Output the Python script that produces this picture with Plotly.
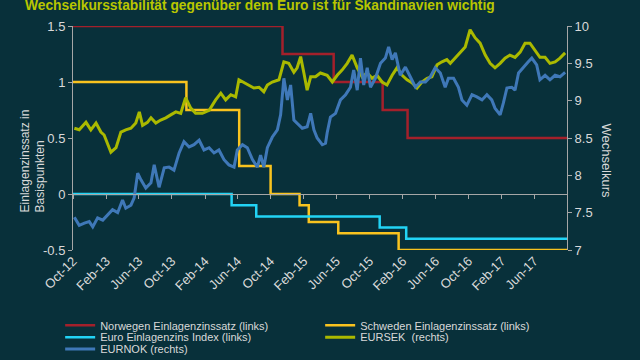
import plotly.graph_objects as go

# ---------------- data ----------------
title_text = "Wechselkursstabilität gegenüber dem Euro ist für Skandinavien wichtig"

nor_dates = ["2012-10-01", "2014-11-14", "2015-05-22", "2015-11-19", "2016-02-19", "2017-09-30"]
nor_rate = [1.5, 1.25, 1.0, 0.75, 0.5, 0.5]

swe_dates = ["2012-10-01", "2013-11-24", "2014-06-07", "2014-10-01", "2015-01-16",
             "2015-02-19", "2015-06-08", "2016-01-17", "2017-09-30"]
swe_rate = [1.0, 0.75, 0.25, 0.0, -0.1, -0.25, -0.35, -0.5, -0.5]

eur_dates = ["2012-10-01", "2014-05-10", "2014-08-09", "2015-11-08", "2016-02-14", "2017-09-30"]
eur_rate = [0.0, -0.1, -0.2, -0.3, -0.4, -0.4]

sek_dates = [
    "2012-10-06", "2012-10-24", "2012-11-18", "2012-12-06", "2012-12-25", "2013-01-12", "2013-01-24",
    "2013-02-06", "2013-02-18", "2013-03-09", "2013-03-27", "2013-04-14", "2013-05-03", "2013-05-21",
    "2013-06-03", "2013-06-15", "2013-07-03", "2013-07-16", "2013-08-03", "2013-08-21", "2013-09-09",
    "2013-09-27", "2013-10-16", "2013-11-03", "2013-11-21", "2013-12-10", "2013-12-28", "2014-01-16",
    "2014-01-22", "2014-02-16", "2014-03-12", "2014-03-31", "2014-04-18", "2014-05-07", "2014-05-25",
    "2014-06-06", "2014-06-25", "2014-07-13", "2014-07-31", "2014-08-19", "2014-09-06", "2014-09-19",
    "2014-10-07", "2014-11-01", "2014-11-19", "2014-12-07", "2014-12-26", "2015-01-07", "2015-01-20",
    "2015-02-01", "2015-02-13", "2015-02-26", "2015-03-16", "2015-04-03", "2015-04-22",
    "2015-04-28", "2015-05-17", "2015-06-04", "2015-06-22", "2015-07-11", "2015-07-29", "2015-08-17",
    "2015-09-04", "2015-09-23", "2015-10-11", "2015-10-29", "2015-11-17", "2015-12-05", "2015-12-24",
    "2016-01-11", "2016-01-30", "2016-02-17", "2016-03-06", "2016-03-25", "2016-04-12", "2016-05-01",
    "2016-05-19", "2016-06-07", "2016-06-25", "2016-07-13",
    "2016-07-26", "2016-08-13", "2016-09-01", "2016-09-19", "2016-10-07", "2016-10-26", "2016-11-13",
    "2016-12-02", "2016-12-20", "2017-01-07", "2017-01-26", "2017-02-13", "2017-03-03", "2017-03-22",
    "2017-04-10", "2017-04-28", "2017-05-16", "2017-06-04", "2017-06-22", "2017-07-11", "2017-07-29",
    "2017-08-17", "2017-09-04", "2017-09-23"]
sek_rate = [
    8.63, 8.61, 8.71, 8.61, 8.70, 8.58, 8.54, 8.41, 8.31, 8.37, 8.58, 8.61, 8.63, 8.70,
    8.85, 8.67, 8.71, 8.77, 8.70, 8.74, 8.77, 8.81, 8.85, 8.83, 9.04, 8.90, 8.83, 8.83,
    8.83, 8.87, 9.01, 9.10, 9.01, 9.08, 9.05, 9.28, 9.24, 9.21, 9.17, 9.18, 9.12, 9.21,
    9.25, 9.28, 9.52, 9.50, 9.38, 9.44, 9.59, 9.37, 9.14, 9.32, 9.32, 9.37, 9.34,
    9.34, 9.25, 9.34, 9.41, 9.50, 9.61, 9.44, 9.32, 9.37, 9.30, 9.34, 9.25, 9.21, 9.34,
    9.44, 9.34, 9.28, 9.24, 9.17, 9.25, 9.30, 9.32, 9.48, 9.52, 9.55,
    9.50, 9.57, 9.64, 9.72, 9.95, 9.84, 9.77, 9.61, 9.50, 9.44, 9.50, 9.57, 9.61, 9.58,
    9.65, 9.77, 9.77, 9.68, 9.58, 9.58, 9.50, 9.52, 9.57, 9.64]

nok_dates = [
    "2012-10-06", "2012-10-24", "2012-11-12", "2012-11-30", "2012-12-13", "2012-12-31", "2013-01-19",
    "2013-02-06", "2013-02-24", "2013-03-15", "2013-04-02", "2013-04-14", "2013-05-03", "2013-05-15",
    "2013-05-28", "2013-06-09", "2013-06-27", "2013-07-16", "2013-07-28", "2013-08-15", "2013-09-03",
    "2013-09-21", "2013-10-09", "2013-10-28", "2013-11-15", "2013-12-04", "2013-12-22", "2014-01-10",
    "2014-01-28", "2014-02-16", "2014-03-06", "2014-03-24", "2014-04-12", "2014-04-30", "2014-05-19",
    "2014-05-31", "2014-06-19", "2014-07-07", "2014-07-26", "2014-08-13", "2014-08-25", "2014-09-06",
    "2014-09-19", "2014-10-07", "2014-10-26", "2014-11-07", "2014-11-19", "2014-12-02", "2014-12-14",
    "2014-12-26", "2015-01-07", "2015-01-26", "2015-02-13", "2015-02-26", "2015-03-10", "2015-03-22",
    "2015-04-10", "2015-04-22",
    "2015-04-28", "2015-05-10", "2015-05-29", "2015-06-16", "2015-07-05", "2015-07-23", "2015-08-04",
    "2015-08-17", "2015-08-29", "2015-09-10", "2015-09-23", "2015-10-05", "2015-10-23", "2015-11-11",
    "2015-11-29", "2015-12-11", "2015-12-24", "2016-01-05", "2016-01-23", "2016-02-11", "2016-02-29",
    "2016-03-19", "2016-04-06", "2016-04-25", "2016-05-13", "2016-05-31", "2016-06-19", "2016-07-07",
    "2016-07-19",
    "2016-08-07", "2016-08-25", "2016-09-07", "2016-09-25", "2016-10-14", "2016-11-01", "2016-11-20",
    "2016-12-08", "2016-12-26", "2017-01-07", "2017-01-26", "2017-02-07", "2017-02-20", "2017-03-10",
    "2017-03-22", "2017-04-04", "2017-04-22", "2017-05-10", "2017-05-23", "2017-06-10", "2017-06-22",
    "2017-07-11", "2017-07-29", "2017-08-17", "2017-09-04", "2017-09-23"]
nok_rate = [
    7.44, 7.33, 7.36, 7.38, 7.31, 7.43, 7.40, 7.47, 7.54, 7.50, 7.67, 7.56, 7.60, 7.70,
    8.03, 7.94, 7.83, 7.90, 8.14, 7.84, 8.10, 8.11, 8.07, 8.30, 8.45, 8.38, 8.41, 8.47,
    8.34, 8.37, 8.30, 8.34, 8.21, 8.14, 8.11, 8.34, 8.41, 8.37, 8.21, 8.11, 8.27, 8.11,
    8.37, 8.51, 8.61, 8.81, 9.30, 9.01, 9.21, 8.74, 8.70, 8.63, 8.65, 8.83, 8.61, 8.50,
    8.41, 8.43,
    8.57, 8.78, 8.83, 9.01, 9.08, 9.18, 9.41, 9.14, 9.57, 9.21, 9.44, 9.18, 9.30, 9.50,
    9.57, 9.72, 9.55, 9.64, 9.34, 9.45, 9.32, 9.18, 9.25, 9.25, 9.32, 9.44, 9.37, 9.18,
    9.30,
    9.30, 9.18, 9.01, 8.94, 9.08, 9.05, 9.01, 9.08, 9.01, 8.90, 8.81, 8.97, 9.17, 9.18,
    9.14, 9.37, 9.45, 9.52, 9.57, 9.48, 9.28, 9.34, 9.28, 9.34, 9.32, 9.38]

left_tickvals = [-0.5, 0, 0.5, 1, 1.5]
left_ticktext = ["-0.5", "0", "0.5", "1", "1.5"]
right_tickvals = [7, 7.5, 8, 8.5, 9, 9.5, 10]
right_ticktext = ["7", "7.5", "8", "8.5", "9", "9.5", "10"]

names = ["Norwegen Einlagenzinssatz (links)", "Schweden Einlagenzinssatz (links)",
         "Euro Einlagenzins Index (links)", "EURSEK\u00a0 (rechts)", "EURNOK (rechts)"]

# ---------------- style ----------------
BG = "#08303a"
AXC = "#a6a6a6"
TXT = "#d9d9d9"
FONT = "Liberation Sans, Arial, sans-serif"
X_RANGE = ["2012-10-01", "2017-09-30"]

fig = go.Figure()
fig.add_trace(go.Scatter(x=nor_dates, y=nor_rate, name=names[0], mode="lines",
                         line=dict(color="#a3202b", width=2.5, shape="hv"), legend="legend"))
fig.add_trace(go.Scatter(x=swe_dates, y=swe_rate, name=names[1], mode="lines",
                         line=dict(color="#f9c31f", width=2.5, shape="hv"), legend="legend"))
fig.add_trace(go.Scatter(x=eur_dates, y=eur_rate, name=names[2], mode="lines",
                         line=dict(color="#22d3f5", width=2.5, shape="hv"), legend="legend2"))
fig.add_trace(go.Scatter(x=sek_dates, y=sek_rate, name=names[3], mode="lines", yaxis="y2",
                         line=dict(color="#aab900", width=3), legend="legend2"))
fig.add_trace(go.Scatter(x=nok_dates, y=nok_rate, name=names[4], mode="lines", yaxis="y2",
                         line=dict(color="#3f78b8", width=3), legend="legend3"))
# helper (empty) trace so the zero-crossing tick axis is rendered
fig.add_trace(go.Scatter(x=[], y=[], xaxis="x2", yaxis="y", showlegend=False, hoverinfo="skip"))

leg_common = dict(orientation="h", xanchor="left", yanchor="middle", bgcolor="rgba(0,0,0,0)",
                  font=dict(family=FONT, size=11, color=TXT), entrywidth=215, itemwidth=30,
                  traceorder="normal")

fig.update_layout(
    width=640, height=360,
    paper_bgcolor=BG, plot_bgcolor=BG,
    margin=dict(l=73, r=73, t=26, b=110, autoexpand=False),
    font=dict(family=FONT, color=TXT, size=13),
    xaxis=dict(type="date", range=X_RANGE, dtick="M4", tick0="2012-10-01", tickformat="%b-%y",
               tickangle=-45, showline=False, showgrid=False, zeroline=False, ticks="",
               tickfont=dict(family=FONT, size=13, color=TXT)),
    xaxis2=dict(type="date", range=X_RANGE, overlaying="x", anchor="free", position=0.25,
                dtick="M4", tick0="2012-10-01", showticklabels=False, showline=True, linecolor=AXC,
                linewidth=1, ticks="outside", ticklen=4, tickcolor=AXC, showgrid=False, zeroline=False),
    yaxis=dict(range=[-0.5, 1.5], tickvals=left_tickvals, ticktext=left_ticktext, showline=True,
               linecolor=AXC, ticks="outside", ticklen=4, tickcolor=AXC, showgrid=False, zeroline=False,
               tickfont=dict(family=FONT, size=13, color=TXT)),
    yaxis2=dict(range=[7, 10], tickvals=right_tickvals, ticktext=right_ticktext, overlaying="y",
                side="right", showline=True, linecolor=AXC, ticks="outside", ticklen=4, tickcolor=AXC,
                showgrid=False, zeroline=False, tickfont=dict(family=FONT, size=13, color=TXT)),
    legend=dict(x=-0.026, y=-0.336, **leg_common),
    legend2=dict(x=-0.026, y=-0.389, **leg_common),
    legend3=dict(x=-0.026, y=-0.442, **leg_common),
    showlegend=True,
)

# chart title (partly cut at the top edge, as in the reference)
fig.add_annotation(text="<b>" + title_text + "</b>", xref="paper", yref="paper",
                   x=0.379, y=1.051, xanchor="center", yanchor="bottom", showarrow=False,
                   font=dict(family=FONT, size=13.8, color="#b8c600"))
fig.add_annotation(text="Einlagenzinssatz in<br>Basispunkten", xref="paper", yref="paper",
                   x=-0.081, y=0.40, xanchor="center", yanchor="middle", textangle=-90, align="left",
                   showarrow=False, font=dict(family=FONT, size=12, color=TXT))
fig.add_annotation(text="Wechselkurs", xref="paper", yref="paper", x=1.081, y=0.40,
                   xanchor="center", yanchor="middle", textangle=90, showarrow=False,
                   font=dict(family=FONT, size=13, color=TXT))

fig.write_html("out.html", config={"displayModeBar": False},
               post_script="document.body.style.margin='0';document.body.style.background='%s';" % BG)
